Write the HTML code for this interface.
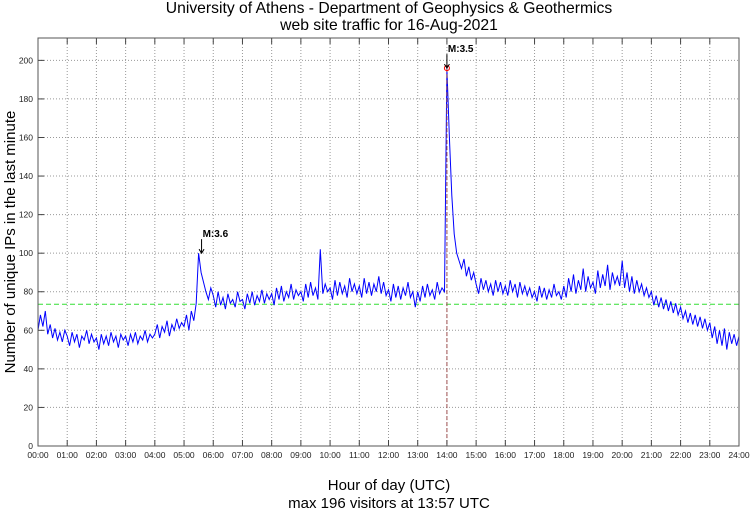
<!DOCTYPE html>
<html><head><meta charset="utf-8"><style>
body{margin:0;background:#fff;font-family:"Liberation Sans",sans-serif}
svg text{font-family:"Liberation Sans",sans-serif}
</style></head><body>
<svg id="c" width="750" height="511" xmlns="http://www.w3.org/2000/svg">
<text x="389" y="13" font-size="15.7" text-anchor="middle">University of Athens - Department of Geophysics &amp; Geothermics</text>
<text x="389" y="30" font-size="15.7" text-anchor="middle">web site traffic for 16-Aug-2021</text>
<text transform="translate(15,242) rotate(-90)" font-size="15" text-anchor="middle">Number of unique IPs in the last minute</text>
<text x="389" y="490" font-size="15" text-anchor="middle">Hour of day (UTC)</text>
<text x="389" y="508" font-size="15" text-anchor="middle">max 196 visitors at 13:57 UTC</text>
<g id="grid"></g><g id="plot"></g><g id="axes"></g>
</svg>
<script>
const hours=[0,1,2,3,4,5,6,7,8,9,10,11,12,13,14,15,16,17,18,19,20,21,22,23,24];
const yTicks=[0,20,40,60,80,100,120,140,160,180,200];
const visitors=[
60,68,62,70,58,63,56,61,55,59,54,60,
57,52,59,54,58,51,57,55,60,53,58,54,
56,50,58,53,57,52,59,54,57,51,58,55,
57,52,58,54,59,53,57,55,60,54,58,56,
58,63,56,62,59,65,57,63,60,66,61,64,
62,68,60,70,65,74,100,90,85,80,76,82,
78,72,80,73,77,71,79,74,76,72,80,75,
76,71,79,74,80,73,78,75,81,74,79,76,
79,73,82,76,83,75,80,77,84,76,81,78,
80,75,84,77,85,78,82,76,102,79,84,80,
82,76,86,78,85,79,83,77,87,80,84,79,
83,77,87,79,85,78,84,80,88,79,85,78,
81,75,84,77,83,76,82,78,85,77,80,72,
80,75,83,77,84,78,81,76,85,79,82,80,
196,160,130,110,100,96,92,97,88,93,86,90,
84,79,87,81,86,80,84,78,86,80,85,79,
83,78,86,80,84,77,85,79,83,78,82,77,
80,75,83,77,82,76,81,77,84,78,80,76,
83,77,87,80,89,79,86,81,92,80,88,82,
85,79,91,82,89,83,94,81,90,84,88,83,
96,82,90,80,88,79,86,80,84,78,82,77,
80,73,78,72,77,71,76,70,75,69,74,68,
72,66,70,64,69,63,68,62,67,61,66,60,
64,56,62,53,60,52,61,50,59,53,58,52,57];
const meanValue=73.5;
const peakHour=14, peakValue=196;
const eventHours=[5.6,14], eventValues=[100,196], eventLabels=["M:3.6","M:3.5"];
const L=38,R=739,T=38,B=446,YMAX=211.6;
const X=h=>L+(R-L)*h/24, Y=v=>B-(B-T)*v/YMAX;
const NS="http://www.w3.org/2000/svg";
function mk(parent,tag,attrs){const e=document.createElementNS(NS,tag);for(const k in attrs)e.setAttribute(k,attrs[k]);document.getElementById(parent).appendChild(e);return e;}
hours.forEach(h=>{
 const g=mk('grid','line',{x1:X(h),x2:X(h),y1:T,y2:B,stroke:'#999','stroke-dasharray':'1,2','stroke-width':1});
 
 
 const t=mk('axes','line',{x1:X(h),x2:X(h),y1:B,y2:B-6,stroke:'#444'});
 
 
 const t2=mk('axes','line',{x1:X(h),x2:X(h),y1:T,y2:T+6,stroke:'#444'});
 
 
 const lb=mk('axes','text',{x:X(h),y:B+12,'font-size':8.5,'text-anchor':'middle',fill:'#222'});
 lb.textContent=String(h).padStart(2,'0')+':00';
 
 
});
yTicks.forEach(v=>{
 const g=mk('grid','line',{x1:L,x2:R,y1:Y(v),y2:Y(v),stroke:'#999','stroke-dasharray':'1,2'});
 
 
 const t=mk('axes','line',{x1:L,x2:L+6,y1:Y(v),y2:Y(v),stroke:'#444'});
 
 
 const lb=mk('axes','text',{x:L-5,y:Y(v)+3,'font-size':8.5,'text-anchor':'end',fill:'#222'});
 lb.textContent=v;
 
 
});
const frame=mk('axes','rect',{x:L,y:T,width:R-L,height:B-T,fill:'none',stroke:'#555'});


const mean=mk('plot','line',{x1:L,x2:R,y1:Y(meanValue),y2:Y(meanValue),stroke:'#33dd33','stroke-dasharray':'5,3'});


const pts=visitors.map((v,i)=>X(i*24/(visitors.length-1)).toFixed(1)+','+Y(v).toFixed(1)).join(' ');
const ln=mk('plot','polyline',{points:pts,fill:'none',stroke:'#0000ff','stroke-width':1});


const vl=mk('plot','line',{x1:X(peakHour),x2:X(peakHour),y1:Y(peakValue),y2:B,stroke:'#a05050','stroke-dasharray':'4,2'});


const pc=mk('plot','circle',{cx:X(peakHour),cy:Y(peakValue),r:2.5,fill:'none',stroke:'red'});


eventHours.forEach((h,i)=>{
 const x=X(h),y=Y(eventValues[i]);
 const a=mk('plot','path',{d:`M${x},${y-14}L${x},${y}M${x-2.5},${y-4}L${x},${y}L${x+2.5},${y-4}`,stroke:'#000',fill:'none'});
 
 
 const t=mk('plot','text',{x:x+1,y:y-16,'font-size':10,'font-weight':'bold'});
 t.textContent=eventLabels[i];
 
 
});
</script>
</body></html>
